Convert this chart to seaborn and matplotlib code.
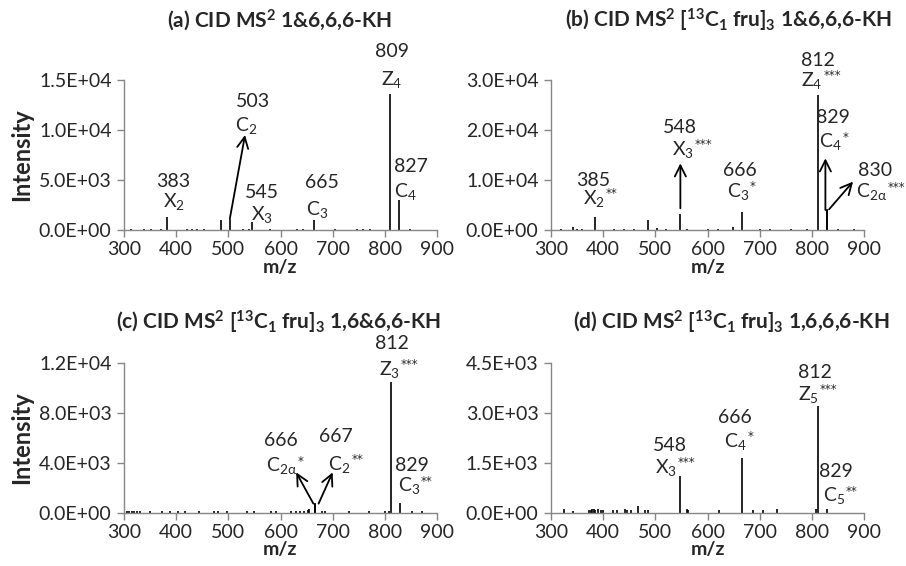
import matplotlib.pyplot as plt
import seaborn as sns
from matplotlib.ticker import FuncFormatter, MultipleLocator

sns.set_theme(style="ticks")
plt.rcParams['font.family'] = ['Lato', 'DejaVu Sans']
plt.rcParams['mathtext.fontset'] = 'custom'
plt.rcParams['mathtext.rm'] = 'Lato'
plt.rcParams['mathtext.it'] = 'Lato:italic'
plt.rcParams['mathtext.bf'] = 'Lato:bold'
plt.rcParams['mathtext.default'] = 'regular'

AXIS_GREY = '#868686'

# ---- panel (a): CID MS2 1&6,6,6-KH ----
mz_a = [313, 338, 351, 370, 383, 421, 431, 440, 453, 485, 503, 529, 539, 545,
        580, 631, 644, 665, 704, 746, 759, 771, 809, 827, 848]
int_a = [100, 120, 100, 150, 1300, 100, 100, 120, 120, 1000, 1100, 100, 120, 800,
         150, 100, 120, 1000, 100, 100, 100, 100, 13600, 3000, 120]
ticks_a = [0, 5000, 10000, 15000]
# (number, x centre, baseline y, ion, x, baseline y, stars)
# ions without stars are centred on x, ions with stars start at x
labels_a = [("383", 395, 4330, "X$_2$", 395, 2330, ""),
            ("503", 548, 12330, "C$_2$", 535, 9900, ""),
            ("545", 565, 3230, "X$_3$", 565, 1000, ""),
            ("665", 679, 4230, "C$_3$", 670, 1500, ""),
            ("809", 813, 17330, "Z$_4$", 813, 14500, ""),
            ("827", 850, 5830, "C$_4$", 839, 3330, "")]
arrows_a = [(503, 1170, 532, 9500)]

# ---- panel (b): CID MS2 [13C1 fru]3 1&6,6,6-KH ----
mz_b = [320, 343, 349, 360, 385, 420, 440, 460, 486, 503, 520, 548, 560, 600,
        620, 648, 666, 700, 720, 760, 790, 812, 829, 830, 850, 880]
int_b = [150, 700, 300, 150, 2700, 150, 150, 150, 2000, 400, 150, 3300, 150, 150,
         150, 600, 3700, 150, 150, 150, 150, 27000, 4000, 4300, 150, 150]
ticks_b = [0, 10000, 20000, 30000]
labels_b = [("385", 381, 8800, "X$_2$", 361, 5200, "**"),
            ("548", 547, 19330, "X$_3$", 531, 15000, "***"),
            ("666", 663, 10800, "C$_3$", 637, 6670, "*"),
            ("812", 812, 32800, "Z$_4$", 780, 28800, "***"),
            ("829", 841, 21330, "C$_4$", 814, 16530, "*"),
            ("830", 922, 10800, "C$_{2α}$", 885, 6530, "***")]
arrows_b = [(548, 4330, 548, 13330), (826, 4000, 826, 14330), (833, 4130, 879, 9670)]

# ---- panel (c): CID MS2 [13C1 fru]3 1,6&6,6-KH ----
mz_c = [305, 310, 315, 320, 325, 330, 350, 372, 388, 404, 417, 443, 472, 481, 497,
        536, 549, 581, 591, 620, 630, 637, 646, 653, 655, 666, 667, 679, 686, 731,
        770, 801, 808, 812, 829, 853, 872]
int_c = [150, 150, 150, 150, 150, 150, 150, 150, 150, 150, 150, 150, 150, 150, 150,
         150, 150, 150, 150, 150, 150, 150, 200, 250, 300, 700, 800, 150, 150, 150,
         150, 150, 150, 10500, 800, 150, 150]
ticks_c = [0, 4000, 8000, 12000]
labels_c = [("666", 600, 5330, "C$_{2α}$", 572, 3330, "*"),
            ("667", 706, 5650, "C$_2$", 692, 3470, "**"),
            ("812", 814, 13120, "Z$_3$", 789, 11070, "***"),
            ("829", 851, 3390, "C$_3$", 825, 1730, "**")]
arrows_c = [(663, 750, 630, 3250), (673, 750, 700, 3250)]

# ---- panel (d): CID MS2 [13C1 fru]3 1,6,6,6-KH ----
mz_d = [325, 343, 373, 376, 379, 382, 385, 390, 395, 400, 418, 427, 441, 446, 454,
        466, 480, 486, 548, 561, 563, 623, 666, 687, 707, 733, 808, 812, 829]
int_d = [110, 70, 100, 100, 110, 110, 100, 130, 100, 90, 80, 90, 110, 90, 90,
         200, 90, 80, 1100, 110, 100, 90, 1650, 80, 80, 110, 120, 3200, 120]
ticks_d = [0, 1500, 3000, 4500]
labels_d = [("548", 528, 1870, "X$_3$", 499, 1200, "***"),
            ("666", 653, 2700, "C$_4$", 632, 1980, "*"),
            ("812", 805, 4050, "Z$_5$", 774, 3400, "***"),
            ("829", 847, 1070, "C$_5$", 821, 350, "**")]
arrows_d = []

titles = ["(a) CID MS$^2$ 1&6,6,6-KH",
          "(b) CID MS$^2$ [$^{13}$C$_1$ fru]$_3$ 1&6,6,6-KH",
          "(c) CID MS$^2$ [$^{13}$C$_1$ fru]$_3$ 1,6&6,6-KH",
          "(d) CID MS$^2$ [$^{13}$C$_1$ fru]$_3$ 1,6,6,6-KH"]

W, H = 906, 566
fig = plt.figure(figsize=(W / 100, H / 100), dpi=100)


def px_axes(left, top, right, bottom):
    return fig.add_axes([left / W, 1 - bottom / H, (right - left) / W, (bottom - top) / H])


def draw(ax, mz, inten, ticks, labels, arrows, ylabel):
    ax.vlines(mz, 0, inten, color='black', linewidth=1.2)
    ax.set_xlim(300, 900)
    ax.set_ylim(0, ticks[-1])
    ax.set_yticks(ticks)
    ax.xaxis.set_major_locator(MultipleLocator(100))
    ax.yaxis.set_major_formatter(FuncFormatter(lambda v, p: f"{v:.1E}"))
    sns.despine(ax=ax)
    for s in ['left', 'bottom']:
        ax.spines[s].set_color(AXIS_GREY)
        ax.spines[s].set_linewidth(1.0)
    ax.tick_params(axis='x', direction='out', length=5, width=1, color=AXIS_GREY,
                   labelsize=14, pad=3)
    ax.tick_params(axis='y', direction='out', length=5, width=1, color=AXIS_GREY,
                   labelsize=14, pad=4)
    ax.set_xlabel("m/z", fontsize=14, fontweight='bold')
    ax.xaxis.set_label_coords(0.5, -0.19)
    if ylabel:
        ax.set_ylabel("Intensity", fontsize=17, fontweight='bold')
        ax.yaxis.set_label_coords(-0.29, 0.5)
    for num, nx, ny, ion, ix, iy, stars in labels:
        ax.text(nx, ny, num, ha='center', va='baseline', fontsize=14, clip_on=False)
        t = ax.text(ix, iy, ion, ha='left' if stars else 'center', va='baseline',
                    fontsize=14, clip_on=False)
        if stars:
            ax.annotate(stars, xy=(1, 1), xycoords=t, xytext=(0.5, 0.5),
                        textcoords='offset points', ha='left', va='top',
                        fontsize=8.5, family='DejaVu Sans', annotation_clip=False)
    for x0, y0, x1, y1 in arrows:
        ax.annotate("", xy=(x1, y1), xytext=(x0, y0),
                    arrowprops=dict(arrowstyle='->', color='black', lw=1.3,
                                    mutation_scale=20, shrinkA=0, shrinkB=0))


ax_a = px_axes(124, 80, 437, 230)
ax_b = px_axes(551, 80, 864, 230)
ax_c = px_axes(124, 363, 437, 513)
ax_d = px_axes(551, 363, 864, 513)

draw(ax_a, mz_a, int_a, ticks_a, labels_a, arrows_a, True)
draw(ax_b, mz_b, int_b, ticks_b, labels_b, arrows_b, False)
draw(ax_c, mz_c, int_c, ticks_c, labels_c, arrows_c, True)
draw(ax_d, mz_d, int_d, ticks_d, labels_d, arrows_d, False)

title_pos = [(280, 27), (728, 28), (278, 330), (731, 329)]
for t, (tx, ty) in zip(titles, title_pos):
    fig.text(tx / W, 1 - ty / H, t, ha='center', va='baseline', fontsize=15,
             fontweight='bold')

fig.savefig("out.png", dpi=100)
